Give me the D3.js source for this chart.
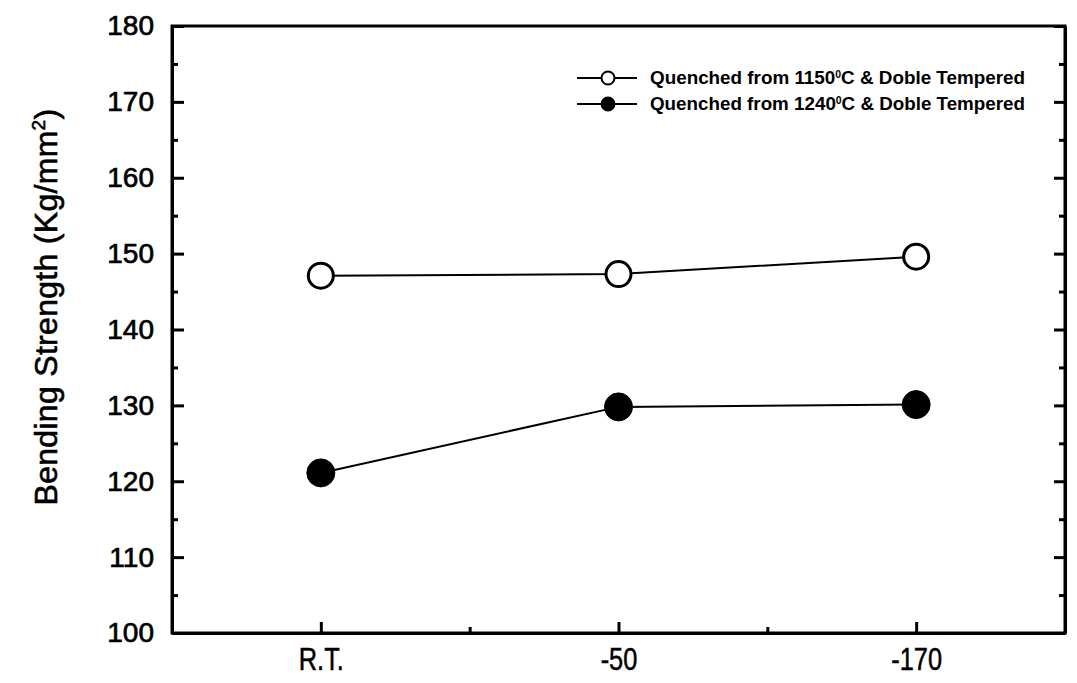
<!DOCTYPE html>
<html>
<head>
<meta charset="utf-8">
<script src="https://cdn.jsdelivr.net/npm/d3@7"></script>
<style>
  body { margin: 0; background: #fff; }
  text { font-family: "Liberation Sans", Arial, sans-serif; fill: #000; }
  .domain { stroke: #000; stroke-width: 3; }
  .tick line { stroke: #000; stroke-width: 3; }
</style>
</head>
<body>
<div id="chart"></div>
<script>
var categories = ["R.T.", "-50", "-170"];
var seriesNames = ["Quenched from 1150", "Quenched from 1240"];
var open1150 = [147.1, 147.3, 149.6];
var filled1240 = [121.1, 129.8, 130.1];
var yTicks = [100, 110, 120, 130, 140, 150, 160, 170, 180];
var yMinor = [105, 115, 125, 135, 145, 155, 165, 175];

var width = 1077, height = 683;
var margin = {top: 26, right: 12, bottom: 50, left: 172};
var w = width - margin.left - margin.right,
    h = height - margin.top - margin.bottom;

var svg = d3.select("#chart").append("svg")
    .attr("width", width)
    .attr("height", height)
    .append("g")
    .attr("transform", "translate(" + margin.left + "," + margin.top + ")");

var x = d3.scaleLinear().domain([0.5, 3.5]).range([0, w]),
    y = d3.scaleLinear().domain([100, 180]).range([h, 0]);

// frame
svg.append("rect")
    .attr("width", w)
    .attr("height", h)
    .attr("fill", "none")
    .attr("stroke", "#000")
    .attr("stroke-width", 3);

// left axis, ticks inward
svg.append("g")
    .call(d3.axisLeft(y).tickValues(yTicks).tickSizeInner(-12).tickSizeOuter(0).tickPadding(18))
    .call(function (g) {
        g.selectAll("text").style("font-size", "28px")
            .style("stroke", "#000").style("stroke-width", 0.7);
    });
svg.append("g")
    .call(d3.axisLeft(y).tickValues(yMinor).tickSizeInner(-6).tickSizeOuter(0).tickFormat(""))
    .call(function (g) { g.select(".domain").remove(); });

// right axis
svg.append("g")
    .attr("transform", "translate(" + w + ",0)")
    .call(d3.axisRight(y).tickValues(yTicks).tickSizeInner(-11).tickSizeOuter(0).tickFormat(""));
svg.append("g")
    .attr("transform", "translate(" + w + ",0)")
    .call(d3.axisRight(y).tickValues(yMinor).tickSizeInner(-6).tickSizeOuter(0).tickFormat(""))
    .call(function (g) { g.select(".domain").remove(); });

// bottom axis
svg.append("g")
    .attr("transform", "translate(0," + h + ")")
    .call(d3.axisBottom(x).tickValues([1, 2, 3]).tickSizeInner(-11).tickSizeOuter(0).tickPadding(15)
        .tickFormat(function (d) { return categories[d - 1]; }))
    .call(function (g) {
        g.selectAll("text").style("font-size", "31px")
            .style("stroke", "#000").style("stroke-width", 0.5)
            .attr("transform", "scale(0.82,1)");
    });
svg.append("g")
    .attr("transform", "translate(0," + h + ")")
    .call(d3.axisBottom(x).tickValues([1.5, 2.5]).tickSizeInner(-6).tickSizeOuter(0).tickFormat(""))
    .call(function (g) { g.select(".domain").remove(); });

// y label
var yl = svg.append("text")
    .attr("transform", "translate(" + (-115) + "," + (307 - margin.top) + ")rotate(-90)")
    .attr("text-anchor", "middle")
    .style("font-size", "32px")
    .style("stroke", "#000").style("stroke-width", 0.6)
    .style("letter-spacing", "0.3px");
yl.append("tspan").text("Bending Strength (Kg/mm");
yl.append("tspan").attr("dy", -12).style("font-size", "19px").text("2");
yl.append("tspan").attr("dy", 12).text(")");

var line = d3.line()
    .x(function (d, i) { return x(i + 1); })
    .y(function (d) { return y(d); });

function drawSeries(data, filled) {
    svg.append("path")
        .datum(data)
        .attr("d", line)
        .attr("fill", "none")
        .attr("stroke", "#000")
        .attr("stroke-width", 2);
    svg.selectAll(null)
        .data(data)
        .enter().append("circle")
        .attr("cx", function (d, i) { return x(i + 1); })
        .attr("cy", function (d) { return y(d); })
        .attr("r", filled ? 14 : 12.5)
        .attr("fill", filled ? "#000" : "#fff")
        .attr("stroke", "#000")
        .attr("stroke-width", filled ? 1 : 3);
}
drawSeries(open1150, false);
drawSeries(filled1240, true);

// legend
var legend = [
    {label: "Quenched from 1150", filled: false, y: 78},
    {label: "Quenched from 1240", filled: true, y: 104}
];
var lg = svg.selectAll(".legend")
    .data(legend)
    .enter().append("g")
    .attr("class", "legend")
    .attr("transform", function (d) {
        return "translate(" + (577 - margin.left) + "," + (d.y - margin.top) + ")";
    });
lg.append("line")
    .attr("x1", 0).attr("x2", 60)
    .attr("stroke", "#000").attr("stroke-width", 2);
lg.append("circle")
    .attr("cx", 31).attr("r", 6.5)
    .attr("fill", function (d) { return d.filled ? "#000" : "#fff"; })
    .attr("stroke", "#000").attr("stroke-width", 2);
var lt = lg.append("text")
    .attr("x", 73)
    .attr("dy", "0.35em")
    .style("font-size", "18px")
    .style("font-weight", "bold")
    .attr("textLength", 375)
    .attr("lengthAdjust", "spacingAndGlyphs");
lt.append("tspan").text(function (d) { return d.label; });
lt.append("tspan").attr("dy", -6).style("font-size", "10px").text("0");
lt.append("tspan").attr("dy", 6).text("C & Doble Tempered");
</script>
</body>
</html>
